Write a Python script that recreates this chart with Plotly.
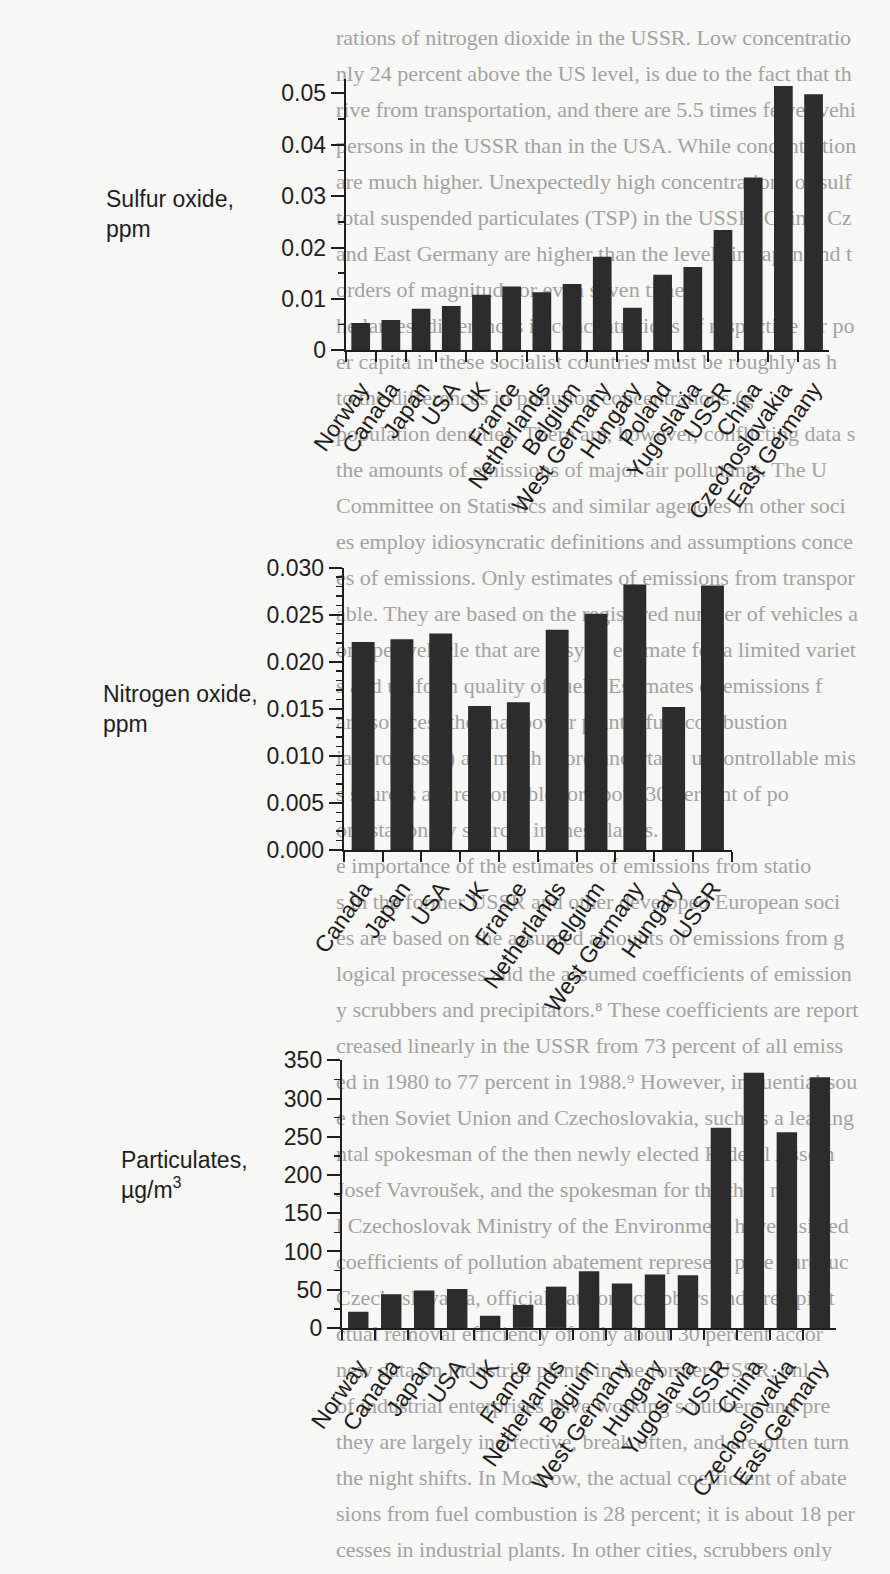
import plotly.graph_objects as go

W, H = 890, 1574

# ---------------- data ----------------
so2_countries = ["Norway", "Canada", "Japan", "USA", "UK", "France", "Netherlands",
                 "Belgium", "West Germany", "Hungary", "Poland", "Yugoslavia", "USSR",
                 "China", "Czechoslovakia", "East Germany"]
so2_ppm = [0.0053, 0.0059, 0.0081, 0.0086, 0.0108, 0.0124, 0.0113, 0.0129, 0.0182,
           0.0083, 0.0147, 0.0162, 0.0234, 0.0336, 0.0514, 0.0498]
so2_ticks = [0, 0.01, 0.02, 0.03, 0.04, 0.05]

nox_countries = ["Canada", "Japan", "USA", "UK", "France", "Netherlands", "Belgium",
                 "West Germany", "Hungary", "USSR"]
nox_ppm = [0.0221, 0.0224, 0.0230, 0.0153, 0.0157, 0.0234, 0.0251, 0.0282, 0.0152, 0.0281]
nox_ticks = [0.000, 0.005, 0.010, 0.015, 0.020, 0.025, 0.030]

tsp_countries = ["Norway", "Canada", "Japan", "USA", "UK", "France", "Netherlands",
                 "Belgium", "West Germany", "Hungary", "Yugoslavia", "USSR", "China",
                 "Czechoslovakia", "East Germany"]
tsp_ugm3 = [21, 44, 49, 51, 16, 30, 54, 74, 58, 70, 69, 262, 334, 256, 328]
tsp_ticks = [0, 50, 100, 150, 200, 250, 300, 350]

page_lines = [
    "rations of nitrogen dioxide in the USSR. Low concentration of",
    "nly 24 percent above the US level, is due to the fact that the bul",
    "rive from transportation, and there are 5.5 times fewer vehicles",
    "persons in the USSR than in the USA. While concentrations",
    "are much higher. Unexpectedly high concentrations of sulfur d",
    "total suspended particulates (TSP) in the USSR, China, Czech",
    "and East Germany are higher than the levels in Japan and the U",
    "orders of magnitude or even seven times.",
    "he largest differences in concentrations of respective air po",
    "er capita in these socialist countries must be roughly as h",
    "to the differences in pollution concentrations (g",
    "population densities. There are, however, conflicting data so",
    "the amounts of emissions of major air pollutants. The U",
    "Committee on Statistics and similar agencies in other soci",
    "es employ idiosyncratic definitions and assumptions concern",
    "es of emissions. Only estimates of emissions from transporta",
    "able. They are based on the registered number of vehicles and",
    "ons per vehicle that are easy to estimate for a limited variet",
    "s and uniform quality of fuels. Estimates of emissions f",
    "ary sources (thermal power plants, fuel combustion",
    "ial processes) are much more uncertain; uncontrollable mis",
    "s sources are responsible for about 30 percent of po",
    "om stationary sources in these lands.",
    "e importance of the estimates of emissions from statio",
    "s in the former USSR and other developed European soci",
    "es are based on the assumed amounts of emissions from g",
    "logical processes and the assumed coefficients of emissions ab",
    "y scrubbers and precipitators.\u2078 These coefficients are reporte",
    "creased linearly in the USSR from 73 percent of all emiss",
    "ed in 1980 to 77 percent in 1988.\u2079 However, influential sou",
    "e then Soviet Union and Czechoslovakia, such as a leading e",
    "ntal spokesman of the then newly elected Federal Assem",
    "Josef Vavrou\u0161ek, and the spokesman for the then ne",
    "l Czechoslovak Ministry of the Environment have insisted",
    "coefficients of pollution abatement represent pure bureauc",
    "Czechoslovakia, official data on scrubbers and precipitat",
    "ctual removal efficiency of only about 30 percent accor",
    "new data on industrial plants in the former USSR, onl",
    "of industrial enterprises have working scrubbers and pre",
    "they are largely ineffective, break often, and are often turne",
    "the night shifts. In Moscow, the actual coefficient of abatem",
    "sions from fuel combustion is 28 percent; it is about 18 per",
    "cesses in industrial plants. In other cities, scrubbers only",
]

# ---------------- layout helpers ----------------
def xdom(x0, x1):
    return [x0 / W, x1 / W]


def ydom(ytop, ybot):
    return [1 - ybot / H, 1 - ytop / H]


# approximate Times advance widths (per 1000 em) to keep page lines inside the frame
_TW = {" ": 250, ".": 250, ",": 250, ";": 278, ":": 278, "(": 333, ")": 333, "-": 333,
       "\u2078": 300, "\u2079": 300, "\u0161": 389}
_TW.update(dict(zip("abcdefghijklmnopqrstuvwxyz",
                    [444, 500, 444, 500, 444, 333, 500, 500, 278, 278, 500, 278, 778,
                     500, 500, 500, 500, 333, 389, 278, 500, 500, 722, 500, 500, 444])))
_TW.update(dict(zip("ABCDEFGHIJKLMNOPQRSTUVWXYZ",
                    [722, 667, 667, 722, 611, 556, 722, 722, 333, 389, 722, 611, 889,
                     722, 722, 556, 722, 667, 556, 611, 722, 722, 944, 722, 722, 611])))
for d in "0123456789":
    _TW[d] = 500


def fit_line(s, size, avail):
    out, w = "", 0.0
    for ch in s:
        w += _TW.get(ch, 500) * size / 1000.0 * 1.04
        if w > avail:
            break
        out += ch
    return out.rstrip()


INK = "#1e1e1e"
BAR = "#2c2c2c"
SANS = "Liberation Sans, Arial, Helvetica, sans-serif"
FS = 23
TXT_SIZE = 22
TXT_X = 312

fig = go.Figure()

# background page text (drawn in a full-page subplot underneath the charts)
shown_lines = [fit_line(s, TXT_SIZE, W - TXT_X - 34) for s in page_lines]
line_y = [27 + 36.6 * i for i in range(len(shown_lines))]
fig.add_trace(go.Scatter(
    x=[TXT_X] * len(shown_lines), y=line_y, text=shown_lines, mode="text",
    textposition="middle right",
    textfont=dict(family="Liberation Serif, Times New Roman, serif", size=TXT_SIZE,
                  color="#a2a2a2"),
    hoverinfo="skip", showlegend=False, xaxis="x", yaxis="y",
))

fig.add_trace(go.Bar(x=so2_countries, y=so2_ppm, marker=dict(color=BAR, line=dict(width=0)),
                     width=0.62, xaxis="x2", yaxis="y2", showlegend=False))
fig.add_trace(go.Bar(x=nox_countries, y=nox_ppm, marker=dict(color=BAR, line=dict(width=0)),
                     width=0.59, xaxis="x3", yaxis="y3", showlegend=False))
fig.add_trace(go.Bar(x=tsp_countries, y=tsp_ugm3, marker=dict(color=BAR, line=dict(width=0)),
                     width=0.62, xaxis="x4", yaxis="y4", showlegend=False))


def xaxis_cfg(dom, anchor):
    return dict(
        domain=dom, anchor=anchor, type="category",
        showline=True, linecolor=INK, linewidth=2,
        ticks="outside", tickson="boundaries", ticklen=10, tickwidth=2, tickcolor=INK,
        tickangle=-55, ticklabelstandoff=14,
        tickfont=dict(family=SANS, size=FS, color=INK),
        showgrid=False, zeroline=False, fixedrange=True,
    )


def yaxis_cfg(dom, anchor, rng, tickvals, minor_dtick, fmt=None):
    d = dict(
        domain=dom, anchor=anchor, range=rng,
        showline=True, linecolor=INK, linewidth=2,
        ticks="outside", ticklen=13, tickwidth=2, tickcolor=INK,
        tickmode="array", tickvals=tickvals,
        tickfont=dict(family=SANS, size=FS, color=INK),
        minor=dict(ticks="outside", ticklen=6, tickwidth=1.5, tickcolor=INK,
                   dtick=minor_dtick, tick0=0, showgrid=False),
        showgrid=False, zeroline=False, fixedrange=True,
    )
    if fmt:
        d["tickformat"] = fmt
    return d


fig.update_layout(
    width=W, height=H,
    margin=dict(l=0, r=0, t=0, b=0),
    paper_bgcolor="#f7f7f5", plot_bgcolor="rgba(0,0,0,0)",
    showlegend=False,
    xaxis=dict(domain=[0, 1], range=[0, W], visible=False, fixedrange=True),
    yaxis=dict(domain=[0, 1], range=[H, 0], visible=False, fixedrange=True),
    xaxis2=xaxis_cfg(xdom(322, 826), "y2"),
    yaxis2=yaxis_cfg(ydom(67, 343), "x2", [0, 0.0528], so2_ticks, 0.005),
    xaxis3=xaxis_cfg(xdom(320, 725), "y3"),
    yaxis3=yaxis_cfg(ydom(564, 851), "x3", [0, 0.030], nox_ticks, 0.001, ".3f"),
    xaxis4=xaxis_cfg(xdom(318, 834), "y4"),
    yaxis4=yaxis_cfg(ydom(1065, 1337), "x4", [0, 350], tsp_ticks, 25),
)

titles = [
    ("Sulfur oxide,<br>ppm", 70, 174),
    ("Nitrogen oxide,<br>ppm", 67, 677),
    ("Particulates,<br>\u00b5g/m<sup>3</sup>", 86, 1151),
]
for txt, px, py in titles:
    fig.add_annotation(
        text=txt, xref="paper", yref="paper", x=px / W, y=1 - py / H,
        xanchor="left", yanchor="top", align="left", showarrow=False,
        font=dict(family=SANS, size=FS, color=INK),
    )

fig.write_html(
    "out.html",
    config=dict(displayModeBar=False, staticPlot=True),
    post_script="document.body.style.margin='0';document.body.style.overflow='hidden';",
)
